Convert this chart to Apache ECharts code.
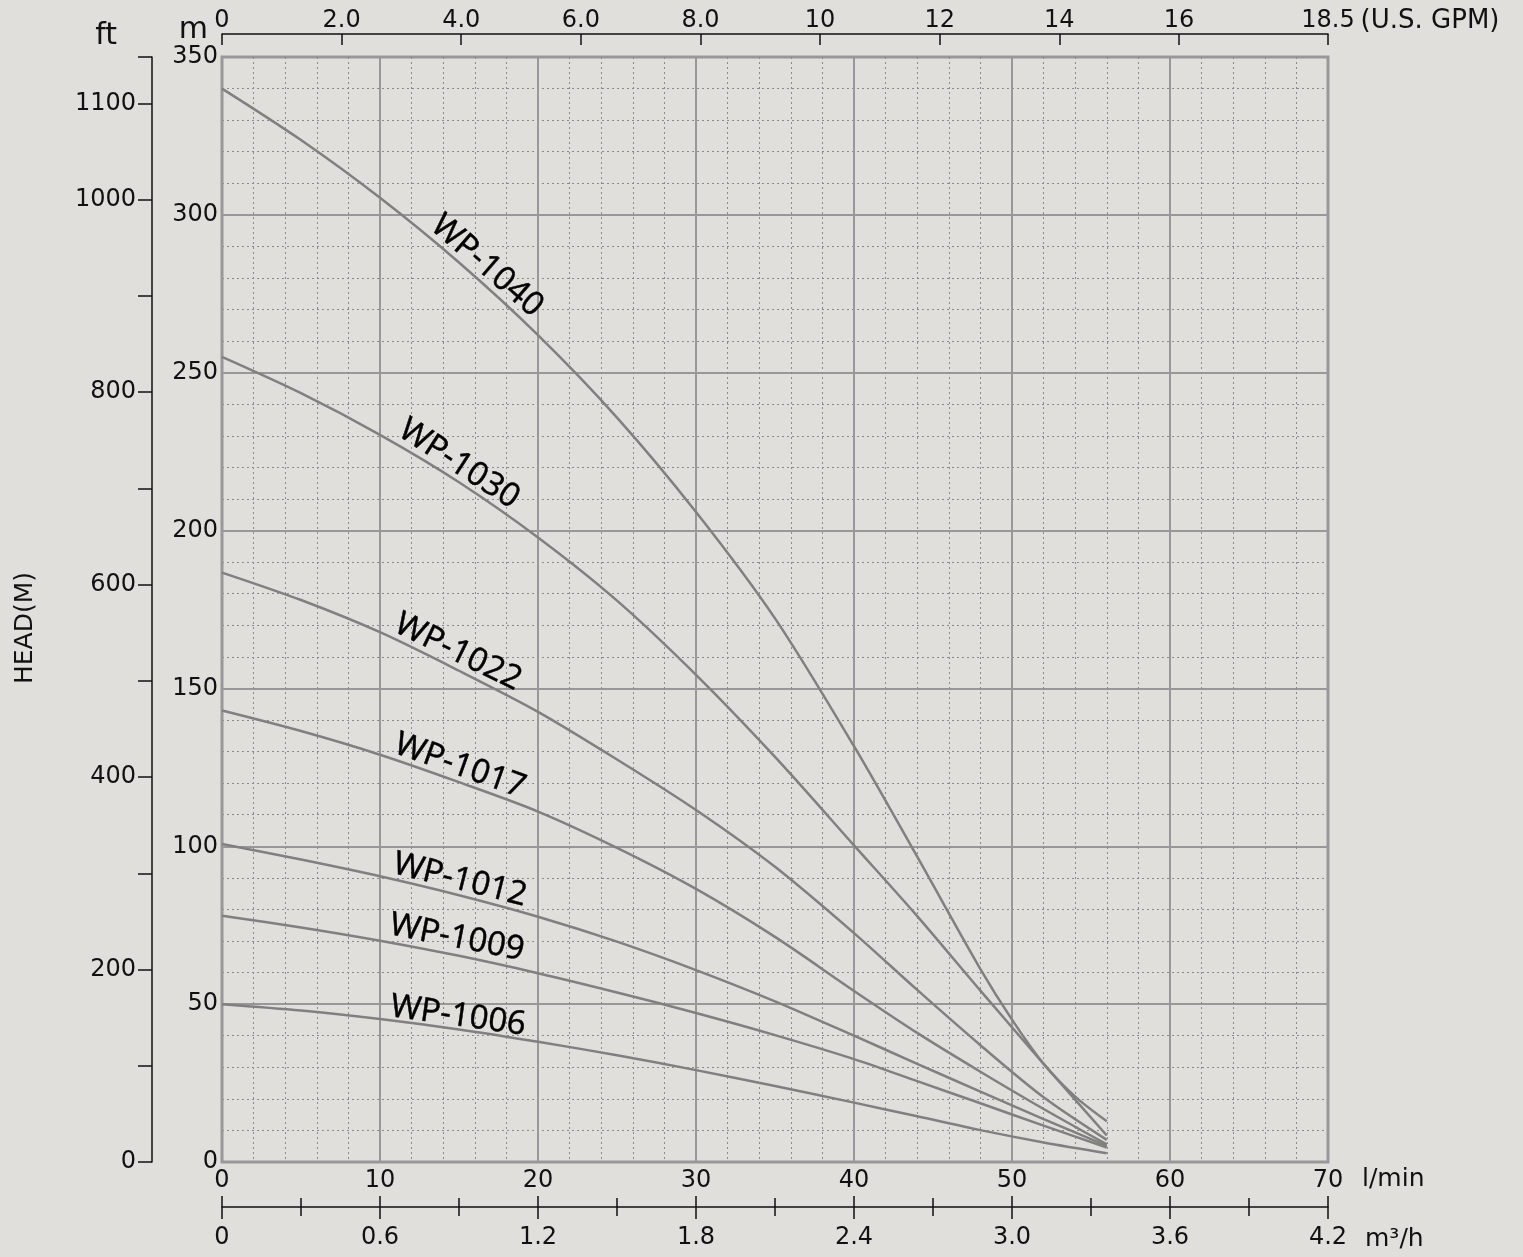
<!DOCTYPE html>
<html>
<head>
<meta charset="utf-8">
<script src="https://cdn.jsdelivr.net/npm/echarts@6/dist/echarts.min.js"></script>
<style>
html,body{margin:0;padding:0;background:#e1dfdb;}
#chart{width:1523px;height:1257px;}
</style>
</head>
<body>
<div id="chart"></div>
<script>
// ---- data: flow (l/min) vs head (m) ----
const seriesNames = ['WP-1040','WP-1030','WP-1022','WP-1017','WP-1012','WP-1009','WP-1006'];
const wp1040 = [[0,340],[5,323.7],[10,305.4],[15,284.9],[20,261.9],[25,235.8],[30,205.9],[35,172.2],[40,131.7],[44,96.7],[48,61.1],[50,45.1],[52,31.1],[54,20.7],[56,12.9]];
const wp1030 = [[0,255],[5,243.5],[10,230.3],[15,215.3],[20,197.8],[25,177.8],[30,154.3],[35,128.3],[40,100.3],[44,77.9],[48,54.3],[52,31.1],[56,8.4]];
const wp1022 = [[0,186.7],[5,178],[10,167.8],[15,155.6],[20,142.6],[25,127.5],[30,111.5],[35,93.5],[40,72.5],[44,54.5],[48,37],[52,20.5],[56,7]];
const wp1017 = [[0,143],[5,136.5],[10,129],[15,120.3],[20,111],[25,99.5],[30,86.5],[35,71.3],[40,54.2],[44,40.9],[48,28.6],[52,16.8],[56,5.6]];
const wp1012 = [[0,100.7],[5,95.8],[10,90.5],[15,84.5],[20,77.7],[25,69.8],[30,60.8],[35,50.9],[40,40],[44,31.1],[48,22.3],[52,13.6],[56,5.1]];
const wp1009 = [[0,78],[5,74.3],[10,70.1],[15,65.3],[20,59.8],[25,53.7],[30,47.2],[35,40.2],[40,32.6],[44,25.6],[48,18.6],[52,11.5],[56,4.6]];
const wp1006 = [[0,50],[5,48],[10,45.3],[15,42],[20,38.1],[25,33.8],[30,29.1],[35,24.1],[40,18.8],[44,14.5],[48,10.1],[52,6.2],[56,2.8]];
const seriesData = [wp1040, wp1030, wp1022, wp1017, wp1012, wp1009, wp1006];

// curve label anchors (flow, head) and text angle
const labelAnchors = [[16.77,283.8],[15.0,221.1],[14.94,161.5],[15.06,125.4],[15.06,89.3],[14.87,71.0],[14.94,46.2]];
const labelAngles = [-41,-33,-26,-19.5,-14,-11,-8];

// ---- axis tick values ----
const FT_PER_M = 3.28084;
const LPM_PER_GPM = 3.78541;
const headMax = 350, flowMax = 70;
const ftTicks = [0,100,200,300,400,500,600,700,800,900,1000,1100, headMax*FT_PER_M];
const ftLabels = [0,200,400,600,800,1000,1100];
const gpmTicks = [0,2,4,6,8,10,12,14,16, flowMax/LPM_PER_GPM];
const gpmLabelText = ['0','2.0','4.0','6.0','8.0','10','12','14','16','18.5'];

const TXT = '#111';
const FONT = 'DejaVu Sans';
const GRID_COLOR = '#989898';
const DOT_COLOR = '#8a8a8a';
const CURVE_COLOR = '#808080';

const chart = echarts.init(document.getElementById('chart'), null, {renderer:'canvas'});

const series = [];
seriesNames.forEach((name, i) => {
  series.push({
    name: name, type: 'line', xAxisIndex: 0, yAxisIndex: 0,
    data: seriesData[i], smooth: 0.3, symbol: 'none',
    lineStyle: {color: CURVE_COLOR, width: 2.5}, z: 3
  });
  series.push({
    name: name + '-label', type: 'scatter', xAxisIndex: 0, yAxisIndex: 0,
    data: [labelAnchors[i]], symbolSize: 1, silent: true,
    itemStyle: {color: 'rgba(0,0,0,0)'},
    label: {show: true, position: 'inside', formatter: name, rotate: labelAngles[i],
      color: '#000', opacity: 1, fontSize: 33, fontFamily: 'Open Sans', align: 'center', verticalAlign: 'middle',
      textBorderColor: '#000', textBorderWidth: 0.5},
    z: 5
  });
});

const option = {
  backgroundColor: '#e1dfdb',
  animation: false,
  grid: {left: 222, top: 57, right: 195, bottom: 95, show: true, borderColor: GRID_COLOR, borderWidth: 3, backgroundColor: 'transparent'},
  xAxis: [
    { // l/min
      type: 'value', position: 'bottom', min: 0, max: flowMax, interval: 10,
      name: 'l/min', nameLocation: 'end', nameGap: 34,
      nameTextStyle: {color: TXT, fontSize: 25, fontFamily: FONT, verticalAlign: 'top', padding: [5,0,0,0]},
      axisLine: {show: false, onZero: false}, axisTick: {show: false},
      axisLabel: {color: TXT, fontSize: 24, fontFamily: FONT, margin: 7},
      splitLine: {show: true, lineStyle: {color: GRID_COLOR, width: 2}},
      minorTick: {show: false, splitNumber: 5},
      minorSplitLine: {show: true, lineStyle: {color: DOT_COLOR, width: 1, type: [2,3]}}
    },
    { // GPM top
      type: 'value', position: 'top', offset: 23, min: 0, max: flowMax / LPM_PER_GPM,
      name: '(U.S. GPM)', nameLocation: 'end', nameGap: 17,
      nameTextStyle: {color: TXT, fontSize: 26, fontFamily: FONT, verticalAlign: 'bottom', align: 'left', padding: [0,0,0,0]},
      axisLine: {show: true, onZero: false, lineStyle: {color: '#111', width: 1.5}},
      axisTick: {show: true, inside: true, length: 11, customValues: gpmTicks, lineStyle: {color: '#111', width: 1.5}},
      axisLabel: {show: true, customValues: gpmTicks, margin: 1, color: TXT, fontSize: 24, fontFamily: FONT,
        formatter: function (v) {
          let best = 0, d = 1e9;
          gpmTicks.forEach((t, k) => { if (Math.abs(t - v) < d) { d = Math.abs(t - v); best = k; } });
          return gpmLabelText[best];
        }},
      splitLine: {show: false}
    },
    { // m3/h (ticks downward + labels)
      type: 'value', position: 'bottom', offset: 45, min: 0, max: 4.2, interval: 0.6,
      name: 'm³/h', nameLocation: 'end', nameGap: 37,
      nameTextStyle: {color: TXT, fontSize: 25, fontFamily: FONT, verticalAlign: 'top', align: 'left', padding: [20,0,0,0]},
      axisLine: {show: true, onZero: false, lineStyle: {color: '#111', width: 1.5}},
      axisTick: {show: true, inside: false, length: 12, lineStyle: {color: '#111', width: 1.5}},
      minorTick: {show: true, splitNumber: 2, length: 9, lineStyle: {color: '#111', width: 1.5}},
      axisLabel: {color: TXT, fontSize: 24, fontFamily: FONT, margin: 19,
        formatter: function (v) { return v === 0 ? '0' : v.toFixed(1); }},
      splitLine: {show: false}
    },
    { // m3/h ticks upward
      type: 'value', position: 'bottom', offset: 45, min: 0, max: 4.2, interval: 0.6,
      axisLine: {show: false, onZero: false},
      axisTick: {show: true, inside: true, length: 11, lineStyle: {color: '#111', width: 1.5}},
      minorTick: {show: true, splitNumber: 2, length: 9, lineStyle: {color: '#111', width: 1.5}},
      axisLabel: {show: false}, splitLine: {show: false}
    }
  ],
  yAxis: [
    { // m
      type: 'value', position: 'left', min: 0, max: headMax, interval: 50,
      name: 'm', nameLocation: 'end', nameGap: 6,
      nameTextStyle: {color: TXT, fontSize: 30, fontFamily: FONT, align: 'right', verticalAlign: 'bottom', padding: [0,14,0,0]},
      axisLine: {show: false, onZero: false}, axisTick: {show: false},
      axisLabel: {color: TXT, fontSize: 24, fontFamily: FONT, margin: 4},
      splitLine: {show: true, lineStyle: {color: GRID_COLOR, width: 2}},
      minorTick: {show: false, splitNumber: 5},
      minorSplitLine: {show: true, lineStyle: {color: DOT_COLOR, width: 1, type: [2,3]}}
    },
    { // ft
      type: 'value', position: 'left', offset: 70, min: 0, max: headMax * FT_PER_M,
      name: 'ft', nameLocation: 'end', nameGap: 6,
      nameTextStyle: {color: TXT, fontSize: 30, fontFamily: FONT, align: 'right', verticalAlign: 'bottom', padding: [0,35,0,0]},
      axisLine: {show: true, onZero: false, lineStyle: {color: '#111', width: 1.5}},
      axisTick: {show: true, inside: false, length: 14, customValues: ftTicks, lineStyle: {color: '#111', width: 1.5}},
      axisLabel: {show: true, customValues: ftLabels, margin: 16, color: TXT, fontSize: 24, fontFamily: FONT,
        formatter: function (v) { return String(Math.round(v)); }},
      splitLine: {show: false}
    }
  ],
  graphic: [{
    type: 'text', left: 13, top: 572, rotation: Math.PI / 2,
    style: {text: 'HEAD(M)', fill: TXT, font: '25px "DejaVu Sans"'}
  }],
  series: series
};
chart.setOption(option);
</script>
</body>
</html>
